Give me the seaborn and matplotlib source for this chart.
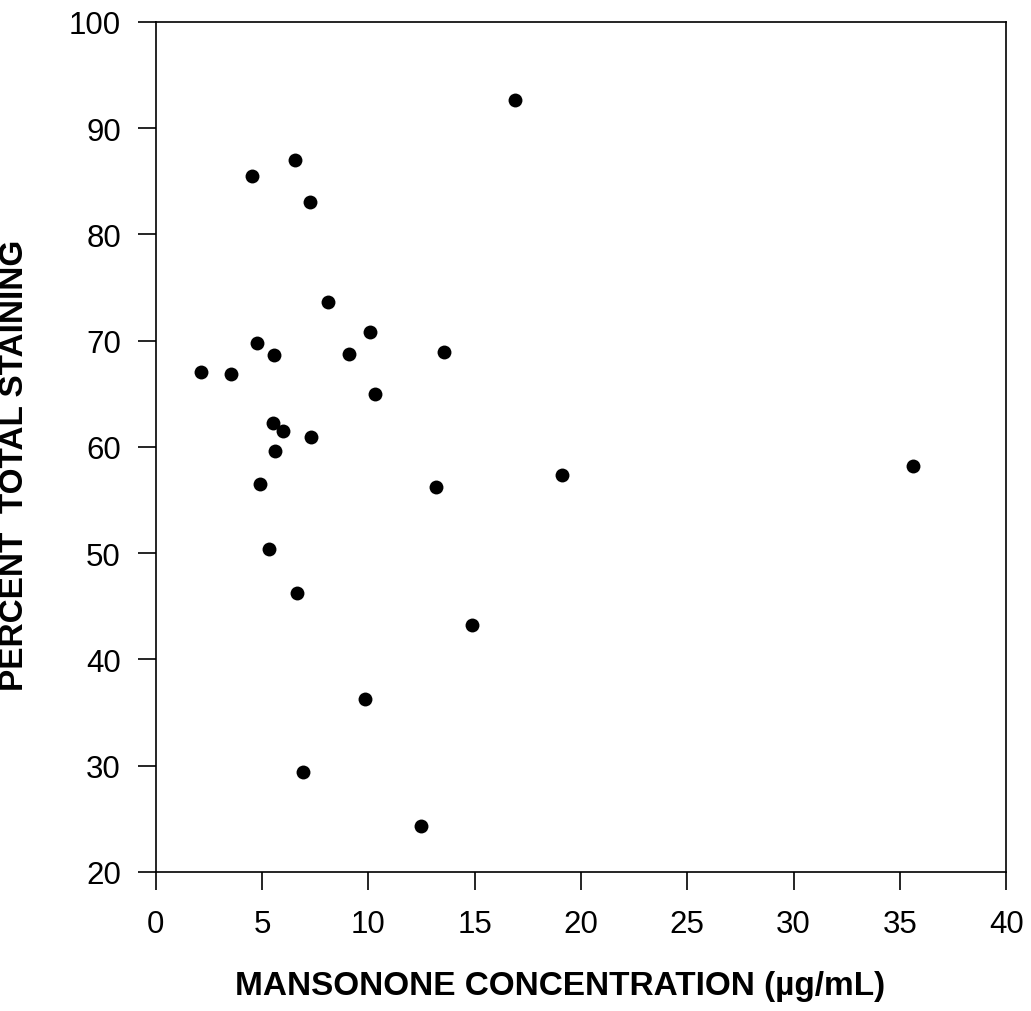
import matplotlib
matplotlib.use("Agg")
import matplotlib.pyplot as plt
import seaborn as sns
import pandas as pd

concentration = [2.13, 3.54, 4.55, 4.76, 4.90, 5.33, 5.57, 5.54, 5.59, 6.01,
                 6.57, 6.65, 6.95, 7.24, 7.32, 8.10, 9.09, 10.08, 10.33, 9.86,
                 12.50, 13.19, 13.55, 14.88, 16.90, 19.11, 35.6]
staining = [67.1, 66.9, 85.5, 69.8, 56.5, 50.4, 68.7, 62.3, 59.6, 61.5,
            87.0, 46.3, 29.4, 83.1, 60.9, 73.6, 68.75, 70.8, 65.0, 36.3,
            24.3, 56.2, 68.9, 43.2, 92.7, 57.4, 58.2]
x_ticks = [0, 5, 10, 15, 20, 25, 30, 35, 40]
y_ticks = [20, 30, 40, 50, 60, 70, 80, 90, 100]

df = pd.DataFrame({"conc": concentration, "stain": staining})

sns.set_style("ticks")
plt.rcParams['font.family'] = ['Liberation Sans', 'DejaVu Sans']

fig = plt.figure(figsize=(10.31, 10.12), dpi=100)
ax = fig.add_axes([0.151, 0.1374, 0.825, 0.8399])

sns.scatterplot(data=df, x="conc", y="stain", ax=ax, color="black",
                s=100, edgecolor="black", linewidth=0, legend=False)

ax.set_xlim(0, 40)
ax.set_ylim(20, 100)
ax.set_xticks(x_ticks)
ax.set_yticks(y_ticks)
for sp in ax.spines.values():
    sp.set_visible(True)
    sp.set_linewidth(1.2)
    sp.set_color("black")
ax.tick_params(axis="both", direction="out", length=13, width=1.2,
               labelsize=22.5, colors="black")
ax.tick_params(axis="x", pad=14)
ax.tick_params(axis="y", pad=12)

ax.set_xlabel("MANSONONE CONCENTRATION (\u00b5g/mL)", fontsize=24,
              fontweight="bold", color="black")
ax.set_ylabel("PERCENT  TOTAL STAINING", fontsize=24,
              fontweight="bold", color="black")
ax.xaxis.set_label_coords(0.476, -0.115)
ax.yaxis.set_label_coords(-0.148, 0.48)

fig.savefig("out.png", dpi=100, facecolor="white")
